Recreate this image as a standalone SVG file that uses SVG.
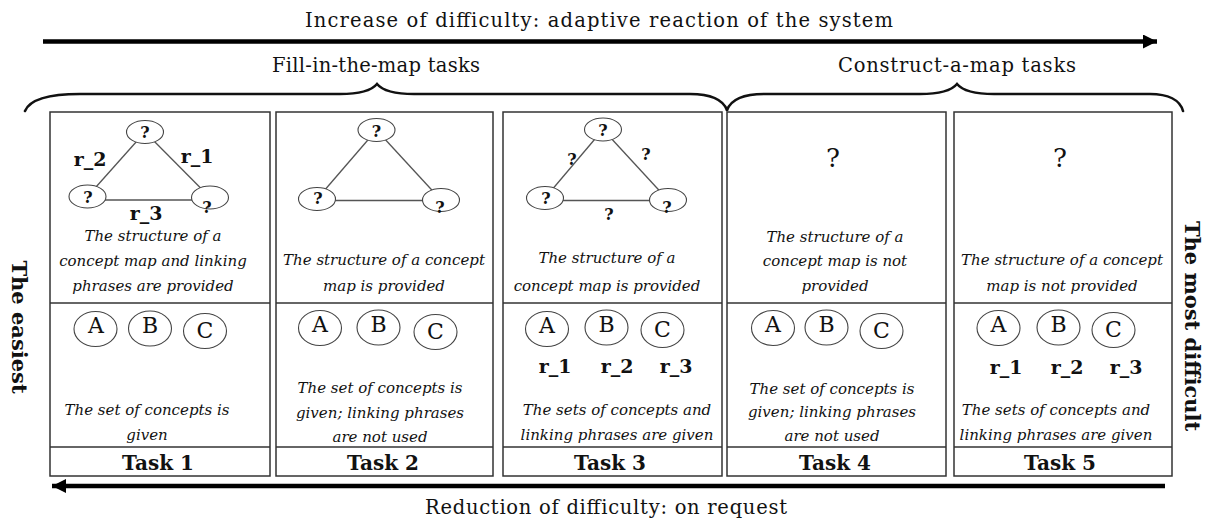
<svg xmlns="http://www.w3.org/2000/svg" width="1215" height="525" viewBox="0 0 1215 525">
<style>
.bg{fill:#fff}
.box{fill:none;stroke:#333;stroke-width:1.5}
.sep{stroke:#333;stroke-width:1.5}
.edge{stroke:#555;stroke-width:1.3;fill:none}
.qn{fill:#fff;stroke:#444;stroke-width:1.1}
.cn{fill:#fff;stroke:#444;stroke-width:1.1}
.brace{fill:none;stroke:#111;stroke-width:2.6;stroke-linecap:round}
.arrow{stroke:#000;stroke-width:4.5;fill:none}
text{font-family:'DejaVu Serif','Liberation Serif',serif;fill:#111}
.q{font-size:16px;font-weight:bold;text-anchor:middle}
.rl{font-size:19px;font-weight:bold;text-anchor:middle}
.it{font-size:15px;font-style:italic;text-anchor:middle}
.let{font-size:22px;text-anchor:middle}
.task{font-size:20px;font-weight:bold;text-anchor:middle}
.hdr{font-size:19.5px;text-anchor:middle}
.side{font-size:21px;font-weight:bold;text-anchor:middle}
.bigq{font-size:26px;text-anchor:middle}
</style>
<defs>
<marker id="ah" markerUnits="userSpaceOnUse" markerWidth="16" markerHeight="14" refX="14" refY="7" orient="auto">
<path d="M0,0 L14,7 L0,14 Z" fill="#000"/>
</marker>
</defs>
<rect class="bg" x="0" y="0" width="1215" height="525"/>

<g id="headers">
<text class="hdr" x="599" y="27" textLength="588">Increase of difficulty: adaptive reaction of the system</text>
<text class="hdr" x="376" y="72" textLength="208">Fill-in-the-map tasks</text>
<text class="hdr" x="957" y="72" textLength="238">Construct-a-map tasks</text>
<text class="hdr" x="606" y="514" textLength="362">Reduction of difficulty: on request</text>
<text class="side" transform="translate(12,327) rotate(90)">The easiest</text>
<text class="side" transform="translate(1185,326) rotate(90)">The most difficult</text>
</g>

<g id="braces">
<path class="brace" d="M25,111 C30,99 48,94 80,94 L340,94 C360,94 372,90 377,84 C382,90 394,94 414,94 L690,94 C712,94 723,100 727,110"/>
<path class="brace" d="M727,110 C731,100 742,94 764,94 L920,94 C940,94 952,90 957,84 C962,90 974,94 994,94 L1150,94 C1168,94 1180,100 1183,111"/>
</g>

<g id="connectors">
<line class="arrow" x1="43" y1="41.5" x2="1157" y2="41.5" marker-end="url(#ah)"/>
<line class="arrow" x1="1165" y1="486" x2="52" y2="486" marker-end="url(#ah)"/>
<line class="edge" x1="145" y1="132" x2="87.5" y2="196.5"/>
<line class="edge" x1="145" y1="132" x2="210" y2="197.5"/>
<line class="edge" x1="87.5" y1="200" x2="210" y2="200"/>
<line class="edge" x1="376.5" y1="130" x2="317" y2="199"/>
<line class="edge" x1="376.5" y1="130" x2="441" y2="200"/>
<line class="edge" x1="317" y1="200.5" x2="441" y2="200.5"/>
<line class="edge" x1="603" y1="129.5" x2="545" y2="198"/>
<line class="edge" x1="603" y1="129.5" x2="668" y2="200"/>
<line class="edge" x1="545" y1="200.5" x2="668" y2="200.5"/>
</g>

<g id="task1">
<rect class="box" x="50" y="112" width="220" height="364"/>
<line class="sep" x1="50" y1="303" x2="270" y2="303"/>
<line class="sep" x1="50" y1="447" x2="270" y2="447"/>
<g id="t1-map">
<ellipse class="qn" cx="145" cy="132" rx="18.5" ry="11.5"/>
<ellipse class="qn" cx="87.5" cy="196.5" rx="18.5" ry="11.5"/>
<ellipse class="qn" cx="210" cy="197.5" rx="18.5" ry="11.5"/>
<text class="q" x="145" y="138">?</text>
<text class="q" x="88" y="203">?</text>
<text class="q" x="207" y="213">?</text>
<text class="rl" x="90" y="166">r_2</text>
<text class="rl" x="197" y="163">r_1</text>
<text class="rl" x="146" y="220">r_3</text>
</g>
<text class="it" x="153" y="241">The structure of a</text>
<text class="it" x="153" y="266">concept map and linking</text>
<text class="it" x="153" y="291">phrases are provided</text>
<g id="t1-concepts">
<ellipse class="cn" cx="95.5" cy="329" rx="21.5" ry="17.5"/>
<ellipse class="cn" cx="150" cy="328.5" rx="21.5" ry="17.5"/>
<ellipse class="cn" cx="205" cy="331" rx="21.5" ry="17.5"/>
<text class="let" x="96" y="333">A</text>
<text class="let" x="150" y="333">B</text>
<text class="let" x="205" y="338">C</text>
</g>
<text class="it" x="147" y="415">The set of concepts is</text>
<text class="it" x="147" y="440">given</text>
<text class="task" x="158" y="470">Task 1</text>
</g>

<g id="task2">
<rect class="box" x="276" y="112" width="217" height="364"/>
<line class="sep" x1="276" y1="303" x2="493" y2="303"/>
<line class="sep" x1="276" y1="447" x2="493" y2="447"/>
<g id="t2-map">
<ellipse class="qn" cx="376.5" cy="130" rx="18.5" ry="11.5"/>
<ellipse class="qn" cx="317" cy="199" rx="18.5" ry="11.5"/>
<ellipse class="qn" cx="441" cy="200" rx="18.5" ry="11.5"/>
<text class="q" x="376.5" y="137">?</text>
<text class="q" x="318" y="204">?</text>
<text class="q" x="440" y="213">?</text>
</g>
<text class="it" x="384" y="265">The structure of a concept</text>
<text class="it" x="384" y="291">map is provided</text>
<g id="t2-concepts">
<ellipse class="cn" cx="320" cy="328" rx="21.5" ry="17.5"/>
<ellipse class="cn" cx="378.5" cy="327.5" rx="21.5" ry="17.5"/>
<ellipse class="cn" cx="435.5" cy="332" rx="21.5" ry="17.5"/>
<text class="let" x="320" y="332">A</text>
<text class="let" x="378.5" y="332">B</text>
<text class="let" x="435.5" y="339">C</text>
</g>
<text class="it" x="380" y="393">The set of concepts is</text>
<text class="it" x="380" y="417.5">given; linking phrases</text>
<text class="it" x="380" y="442">are not used</text>
<text class="task" x="383" y="470">Task 2</text>
</g>

<g id="task3">
<rect class="box" x="503" y="112" width="219" height="364"/>
<line class="sep" x1="503" y1="303" x2="722" y2="303"/>
<line class="sep" x1="503" y1="447" x2="722" y2="447"/>
<g id="t3-map">
<ellipse class="qn" cx="603" cy="129.5" rx="18.5" ry="11.5"/>
<ellipse class="qn" cx="545" cy="198" rx="18.5" ry="11.5"/>
<ellipse class="qn" cx="668" cy="200" rx="18.5" ry="11.5"/>
<text class="q" x="603" y="136">?</text>
<text class="q" x="546" y="204">?</text>
<text class="q" x="667" y="213">?</text>
<text class="q" x="572" y="165">?</text>
<text class="q" x="646" y="160">?</text>
<text class="q" x="609" y="220">?</text>
</g>
<text class="it" x="607" y="263">The structure of a</text>
<text class="it" x="607" y="291">concept map is provided</text>
<g id="t3-concepts">
<ellipse class="cn" cx="547" cy="329" rx="21.5" ry="17.5"/>
<ellipse class="cn" cx="606.5" cy="327.5" rx="21.5" ry="17.5"/>
<ellipse class="cn" cx="662.5" cy="330" rx="21.5" ry="17.5"/>
<text class="let" x="547" y="333">A</text>
<text class="let" x="606.5" y="332">B</text>
<text class="let" x="662.5" y="337">C</text>
</g>
<text class="rl" x="555" y="373">r_1</text>
<text class="rl" x="617" y="373">r_2</text>
<text class="rl" x="676" y="373">r_3</text>
<text class="it" x="617" y="415">The sets of concepts and</text>
<text class="it" x="617" y="440">linking phrases are given</text>
<text class="task" x="610" y="470">Task 3</text>
</g>

<g id="task4">
<rect class="box" x="727" y="112" width="219" height="364"/>
<line class="sep" x1="727" y1="303" x2="946" y2="303"/>
<line class="sep" x1="727" y1="447" x2="946" y2="447"/>
<text class="bigq" x="833" y="167">?</text>
<text class="it" x="835" y="242">The structure of a</text>
<text class="it" x="835" y="266">concept map is not</text>
<text class="it" x="835" y="291">provided</text>
<g id="t4-concepts">
<ellipse class="cn" cx="773" cy="328" rx="21.5" ry="17.5"/>
<ellipse class="cn" cx="826.5" cy="327.5" rx="21.5" ry="17.5"/>
<ellipse class="cn" cx="881.5" cy="331" rx="21.5" ry="17.5"/>
<text class="let" x="773" y="332">A</text>
<text class="let" x="826.5" y="332">B</text>
<text class="let" x="881.5" y="338">C</text>
</g>
<text class="it" x="832" y="394">The set of concepts is</text>
<text class="it" x="832" y="417">given; linking phrases</text>
<text class="it" x="832" y="441">are not used</text>
<text class="task" x="835" y="470">Task 4</text>
</g>

<g id="task5">
<rect class="box" x="954" y="112" width="218" height="364"/>
<line class="sep" x1="954" y1="303" x2="1172" y2="303"/>
<line class="sep" x1="954" y1="447" x2="1172" y2="447"/>
<text class="bigq" x="1060" y="167">?</text>
<text class="it" x="1062" y="265">The structure of a concept</text>
<text class="it" x="1062" y="291">map is not provided</text>
<g id="t5-concepts">
<ellipse class="cn" cx="998.5" cy="328" rx="21.5" ry="17.5"/>
<ellipse class="cn" cx="1058.5" cy="327.5" rx="21.5" ry="17.5"/>
<ellipse class="cn" cx="1113.5" cy="330" rx="21.5" ry="17.5"/>
<text class="let" x="998.5" y="332">A</text>
<text class="let" x="1058.5" y="332">B</text>
<text class="let" x="1113.5" y="337">C</text>
</g>
<text class="rl" x="1006" y="374">r_1</text>
<text class="rl" x="1067" y="374">r_2</text>
<text class="rl" x="1126" y="374">r_3</text>
<text class="it" x="1056" y="415">The sets of concepts and</text>
<text class="it" x="1056" y="440">linking phrases are given</text>
<text class="task" x="1060" y="470">Task 5</text>
</g>
</svg>
